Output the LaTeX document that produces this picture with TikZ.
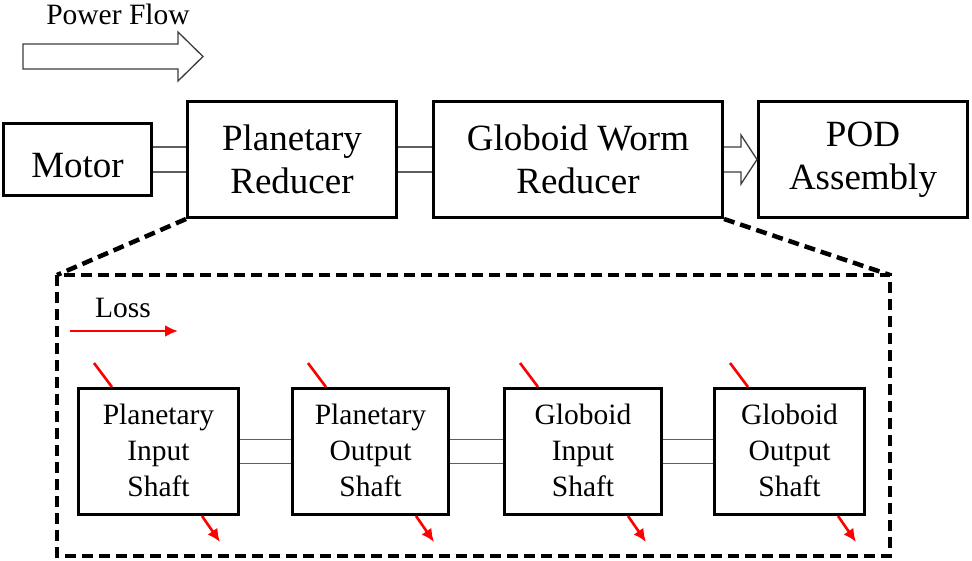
\documentclass[tikz,border=0pt]{standalone}
\usepackage{fontspec}
\setmainfont{Liberation Serif}
\usetikzlibrary{arrows.meta, positioning, calc}
\definecolor{lineMain}{RGB}{0, 0, 0}
\definecolor{shaftGray}{RGB}{95, 95, 95}
\definecolor{outlineDark}{RGB}{60, 60, 60}
\definecolor{lossRed}{RGB}{255, 0, 0}
\newcommand{\unitstrut}{\rule{0pt}{36pt}}
\newcommand{\partstrut}{\rule[-1.6pt]{0pt}{31.6pt}}

\begin{document}
\begin{tikzpicture}[
    x=1pt, y=-1pt,
    node distance=33pt and 33pt,
    unit/.style={rectangle, draw=lineMain, fill=white, line width=3pt, minimum height=116pt, inner sep=0pt, align=center, font=\fontsize{37}{43}\selectfont, execute at begin node=\unitstrut, execute at end node=\unitstrut},
    part/.style={rectangle, draw=lineMain, fill=white, line width=3pt, minimum height=126pt, inner sep=0pt, align=center, font=\fontsize{29.5}{36}\selectfont, execute at begin node=\partstrut, execute at end node=\partstrut},
    legendtext/.style={inner sep=0pt, font=\fontsize{29.5}{36}\selectfont},
    shaft/.style={draw=shaftGray, line width=1.8pt},
    hollow/.style={draw=outlineDark, fill=white, line width=1.3pt, line join=miter},
    zoomline/.style={draw=lineMain, line width=4.5pt, dash pattern=on 11pt off 6pt},
    loss/.style={draw=lossRed, line width=2.6pt},
    lossarrow/.style={loss, -{Latex[length=13pt, width=12pt]}}
  ]
    \useasboundingbox (0,0) rectangle (972,560);

    % Legend: power flow
    \node[legendtext] (powerflow) at (118,14) {Power Flow};
    \draw[hollow] (23,44) -- (178,44) -- (178,32) -- (203,56.5) -- (178,81) -- (178,69) -- (23,69) -- cycle;

    % Drive train
    \node[unit, minimum width=148pt, minimum height=72pt] (motor) at (77.5,159.5) {Motor};
    \node[unit, minimum width=209pt, right=33pt of motor] (planetary) {Planetary\\Reducer};
    \node[unit, minimum width=289pt, right=34pt of planetary] (worm) {Globoid Worm\\Reducer};
    \node[unit, minimum width=209pt, right=33pt of worm] (pod) {POD\\Assembly};

    % Shafts between the units
    \foreach \a/\b in {motor/planetary, planetary/worm} {
      \draw[shaft] ($(\a.east)+(0,-12.5)$) -- ($(\b.west)+(0,-12.5)$);
      \draw[shaft] ($(\a.east)+(0,12.5)$) -- ($(\b.west)+(0,12.5)$);
    }
    \draw[hollow] ($(worm.east)+(0,-12.5)$) -- ++(17,0) -- ++(0,-12) -- (pod.west) -- ($(worm.east)+(17,24.5)$) -- ++(0,-12) -- ($(worm.east)+(0,12.5)$);

    % Detail frame
    \coordinate (zoomNW) at (57,275);
    \coordinate (zoomSE) at (890,556);
    \draw[zoomline] (zoomNW) rectangle (zoomSE);
    \draw[zoomline] (planetary.south west) -- (zoomNW);
    \draw[zoomline] (worm.south east) -- (zoomNW -| zoomSE);

    % Legend: loss
    \node[legendtext] (losstext) at (123,308) {Loss};
    \coordinate (losstail) at (70,331);
    \coordinate (losshead) at (178,331);
    \draw[lossarrow] (losstail) -- (losshead);

    % Shaft chain
    \node[part, minimum width=160pt] (pinput) at (158.5,451.5) {Planetary\\Input\\Shaft};
    \node[part, minimum width=156pt, right=51pt of pinput] (poutput) {Planetary\\Output\\Shaft};
    \node[part, minimum width=157pt, right=53pt of poutput] (ginput) {Globoid\\Input\\Shaft};
    \node[part, minimum width=150pt, right=50pt of ginput] (goutput) {Globoid\\Output\\Shaft};

    \foreach \a/\b in {pinput/poutput, poutput/ginput, ginput/goutput} {
      \draw[shaft] ($(\a.east)+(0,-12)$) -- ($(\b.west)+(0,-12)$);
      \draw[shaft] ($(\a.east)+(0,12)$) -- ($(\b.west)+(0,12)$);
    }

    % Losses in and out of each shaft
    \foreach \p in {pinput, poutput, ginput, goutput} {
      \draw[loss] ($(\p.north west)+(17,-24)$) -- ($(\p.north west)+(35,0)$);
      \draw[lossarrow] ($(\p.south west)+(125,0)$) -- ++(18,26);
    }
  \end{tikzpicture}
\end{document}
